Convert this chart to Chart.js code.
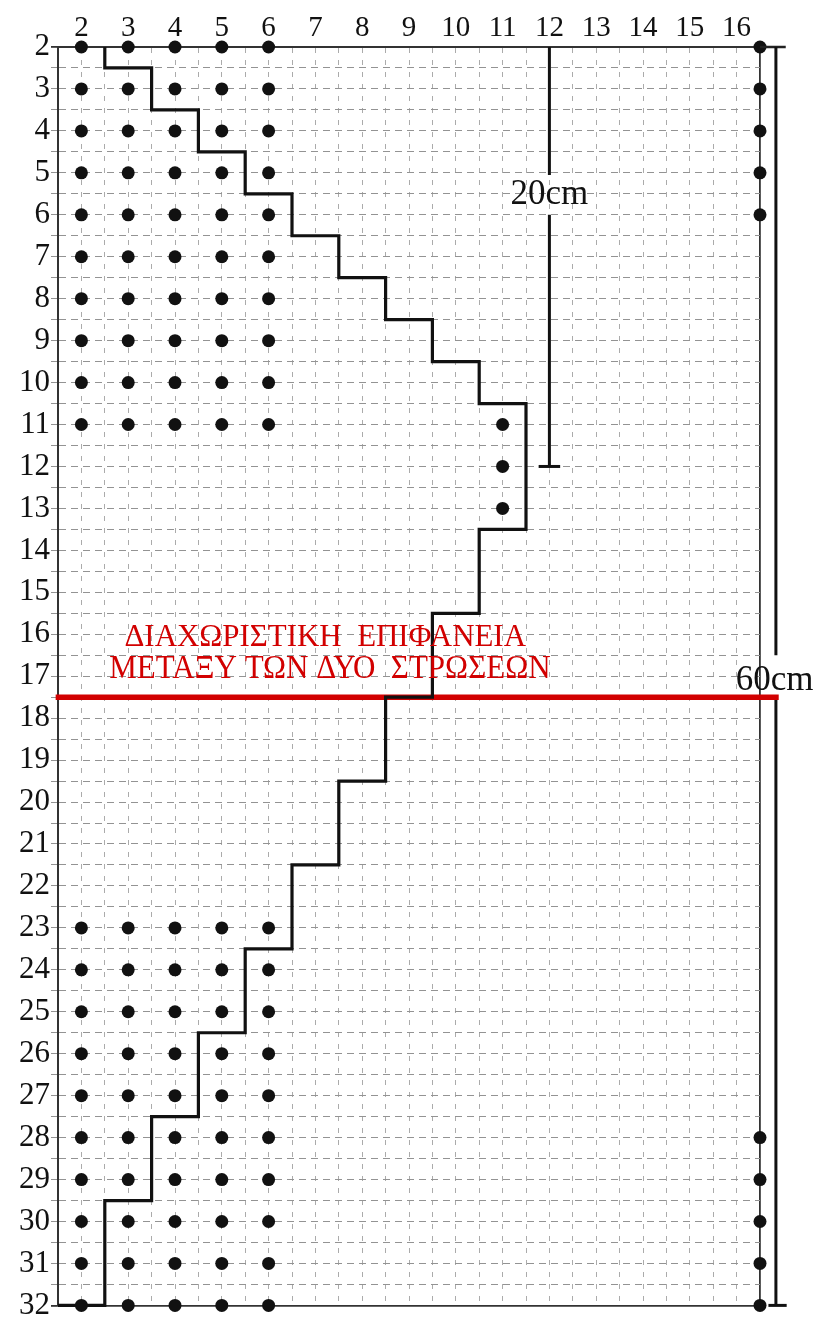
<!DOCTYPE html>
<html>
<head>
<meta charset="utf-8">
<script src="https://cdn.jsdelivr.net/npm/chart.js@4.4.1/dist/chart.umd.min.js"></script>
<style>
  html, body { margin: 0; padding: 0; background: #fff; }
  #wrap { width: 818px; height: 1325px; position: relative; }
</style>
</head>
<body>
<div id="wrap"><canvas id="layers"></canvas></div>
<script>
// tick labels
const xTicks = [2, 3, 4, 5, 6, 7, 8, 9, 10, 11, 12, 13, 14, 15, 16];
const yTicks = [2, 3, 4, 5, 6, 7, 8, 9, 10, 11, 12, 13, 14, 15, 16, 17, 18, 19, 20, 21, 22, 23, 24, 25, 26, 27, 28, 29, 30, 31, 32];

// dots
const dotCols = [2, 3, 4, 5, 6];
const upperRows = [2, 3, 4, 5, 6, 7, 8, 9, 10, 11];
const lowerRows = [23, 24, 25, 26, 27, 28, 29, 30, 31, 32];
const midCol = 11;
const midRows = [11, 12, 13];
const edgeCol = 16.5;
const edgeRows = [2, 3, 4, 5, 6, 28, 29, 30, 31, 32];

// stepped boundary (corner points)
const stepX = [2.5, 2.5, 3.5, 3.5, 4.5, 4.5, 5.5, 5.5, 6.5, 6.5, 7.5, 7.5, 8.5, 8.5, 9.5, 9.5, 10.5, 10.5, 11.5, 11.5,
               10.5, 10.5, 9.5, 9.5, 8.5, 8.5, 7.5, 7.5, 6.5, 6.5, 5.5, 5.5, 4.5, 4.5, 3.5, 3.5, 2.5, 2.5, 1.5];
const stepY = [2, 2.5, 2.5, 3.5, 3.5, 4.5, 4.5, 5.5, 5.5, 6.5, 6.5, 7.5, 7.5, 8.5, 8.5, 9.5, 9.5, 10.5, 10.5, 13.5,
               13.5, 15.5, 15.5, 17.5, 17.5, 19.5, 19.5, 21.5, 21.5, 23.5, 23.5, 25.5, 25.5, 27.5, 27.5, 29.5, 29.5, 32, 32];

// layer interface
const interfaceX = [1.45, 16.9];
const interfaceY = 17.5;

// scale bars
const bar20X = 12;
const bar20Y = [2, 5.05, 6.0, 12];
const bar20TickX = [11.77, 12.23];
const bar60X = 16.84;
const bar60Y = [2, 16.5, 17.55, 32];
const bar60TickX = [16.68, 17.07];
const topEdgeX = [16.5, 17.05];

// text notes
const notes = [
  { text: 'ΔΙΑΧΩΡΙΣΤΙΚΗ  ΕΠΙΦΑΝΕΙΑ', x: 7.21, y: 16.28, span: 8.58, size: 32, color: '#d20000' },
  { text: 'ΜΕΤΑΞΥ ΤΩΝ ΔΥΟ  ΣΤΡΩΣΕΩΝ', x: 7.31, y: 17.04, span: 9.43, size: 33, color: '#d20000' },
  { text: '20cm', x: 12, y: 5.75, size: 35, color: '#111' },
  { text: '60cm', x: 16.81, y: 17.34, size: 35, color: '#111' }
];

const dots = [];
dotCols.forEach(c => upperRows.concat(lowerRows).forEach(r => dots.push({ x: c, y: r })));
midRows.forEach(r => dots.push({ x: midCol, y: r }));
edgeRows.forEach(r => dots.push({ x: edgeCol, y: r }));

function seg(xs, ys, color, width) {
    return {
        type: 'line',
        data: xs.map((x, i) => ({ x: x, y: ys[i] })),
        borderColor: color,
        borderWidth: width,
        pointRadius: 0,
        showLine: true,
        fill: false,
        tension: 0,
        clip: false
    };
}

const notesPlugin = {
    id: 'notes',
    afterDatasetsDraw(chart) {
        const { ctx, scales: { x, y } } = chart;
        notes.forEach(n => {
            ctx.save();
            ctx.font = n.size + 'px "Liberation Serif"';
            ctx.fillStyle = n.color;
            ctx.textBaseline = 'alphabetic';
            ctx.textAlign = 'center';
            const w = ctx.measureText(n.text).width;
            const target = n.span ? x.getPixelForValue(n.x + n.span / 2) - x.getPixelForValue(n.x - n.span / 2) : w;
            ctx.translate(x.getPixelForValue(n.x), y.getPixelForValue(n.y));
            ctx.scale(target / w, 1);
            ctx.fillText(n.text, 0, 0);
            ctx.restore();
        });
    }
};

const edgeX = v => v === 1.5 || v === 16.5;
const edgeY = v => v === 2 || v === 32;

new Chart(document.getElementById('layers'), {
    type: 'scatter',
    data: {
        datasets: [
            seg(stepX, stepY, '#111', 3.2),
            seg(interfaceX, [interfaceY, interfaceY], '#d20000', 5.5),
            seg([bar20X, bar20X], bar20Y.slice(0, 2), '#111', 3),
            seg([bar20X, bar20X], bar20Y.slice(2, 4), '#111', 3),
            seg(bar20TickX, [12, 12], '#111', 3),
            seg([bar60X, bar60X], bar60Y.slice(0, 2), '#111', 3),
            seg([bar60X, bar60X], bar60Y.slice(2, 4), '#111', 3),
            seg(bar60TickX, [32, 32], '#111', 3),
            seg(topEdgeX, [2, 2], '#222', 2.5),
            {
                data: dots,
                backgroundColor: '#111',
                borderWidth: 0,
                pointRadius: 6.5,
                clip: false
            }
        ]
    },
    options: {
        responsive: true,
        maintainAspectRatio: false,
        animation: false,
        layout: { padding: { top: 0, left: 0, right: 58, bottom: 15 } },
        plugins: { legend: { display: false }, tooltip: { enabled: false } },
        scales: {
            x: {
                type: 'linear',
                position: 'top',
                min: 1.5,
                max: 16.5,
                afterFit: s => { s.height = 47; },
                ticks: {
                    stepSize: 0.5,
                    autoSkip: false,
                    maxRotation: 0,
                    padding: 1,
                    color: '#111',
                    font: { family: 'Liberation Serif', size: 29 },
                    callback: v => xTicks.includes(v) ? String(v) : ''
                },
                grid: {
                    drawTicks: false,
                    color: c => c.tick && edgeX(c.tick.value) ? '#333' : '#ababab',
                    lineWidth: c => c.tick && edgeX(c.tick.value) ? 1.8 : 1
                },
                border: {
                    color: '#333',
                    width: 2,
                    dash: c => c.tick && !edgeX(c.tick.value) ? [5, 7] : []
                }
            },
            y: {
                type: 'linear',
                reverse: true,
                min: 2,
                max: 32,
                afterFit: s => { s.width = 58; },
                ticks: {
                    stepSize: 0.5,
                    autoSkip: false,
                    padding: 1,
                    color: '#111',
                    font: { family: 'Liberation Serif', size: 31 },
                    callback: v => yTicks.includes(v) ? String(v) : ''
                },
                grid: {
                    tickLength: 7,
                    color: c => c.tick && edgeY(c.tick.value) ? '#333' : '#939393',
                    lineWidth: c => c.tick && edgeY(c.tick.value) ? 1.8 : 1
                },
                border: {
                    color: '#333',
                    width: 2,
                    dash: c => c.tick && !edgeY(c.tick.value) ? [7, 5] : []
                }
            }
        }
    },
    plugins: [notesPlugin]
});
</script>
</body>
</html>
